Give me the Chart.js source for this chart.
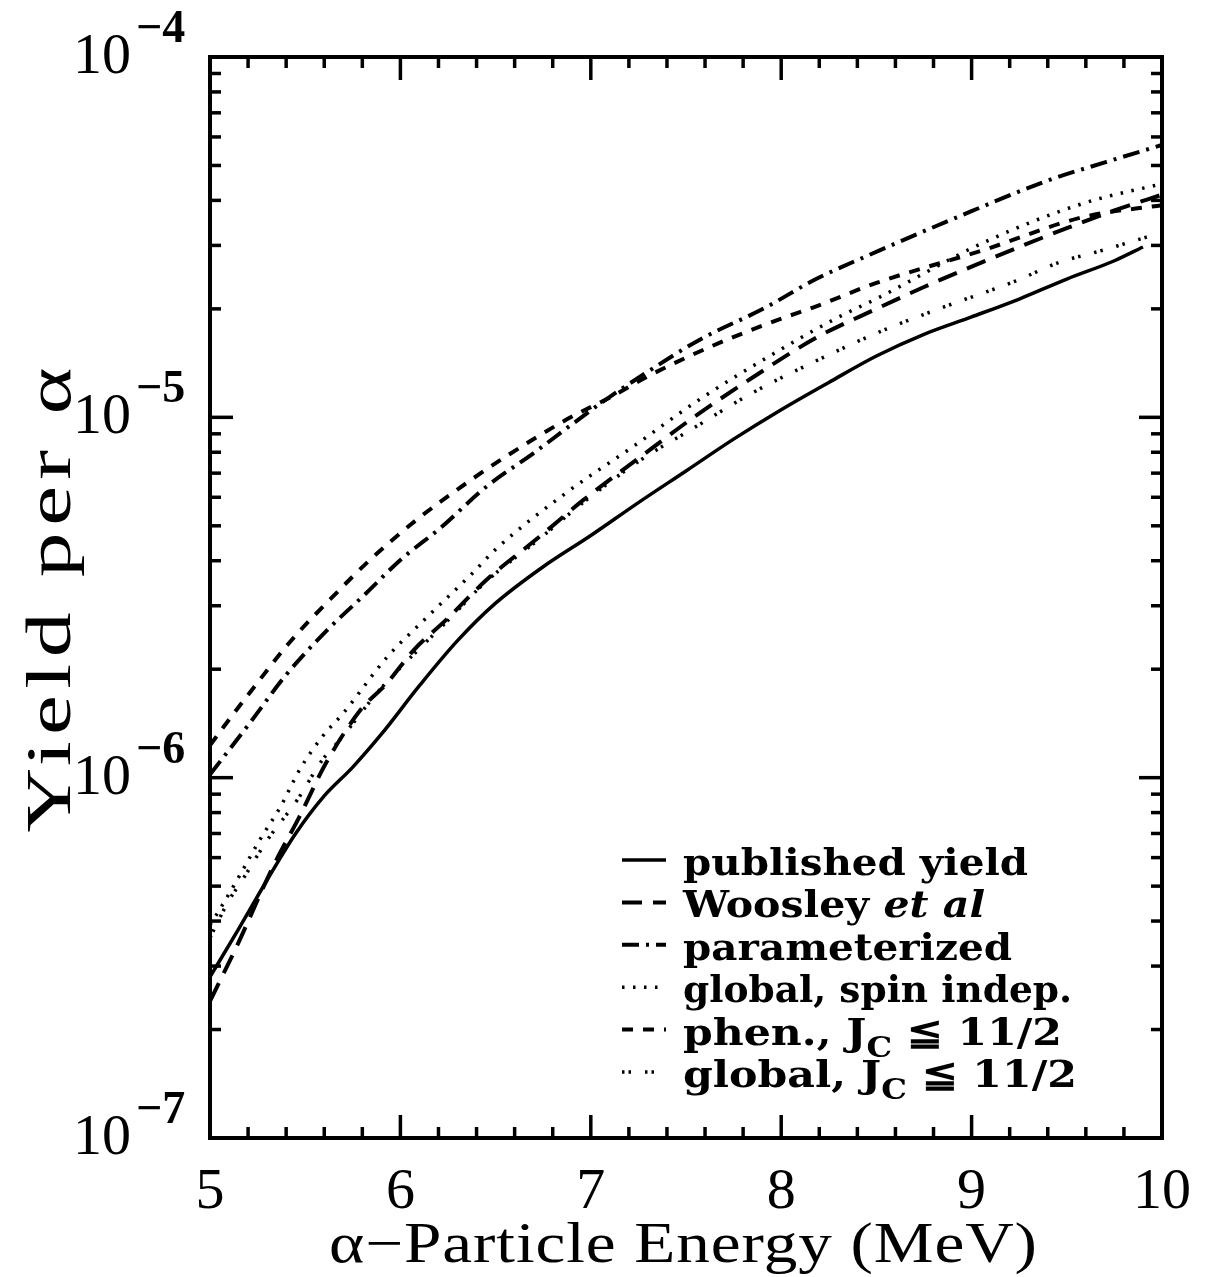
<!DOCTYPE html>
<html><head><meta charset="utf-8">
<script src="https://cdn.jsdelivr.net/npm/chart.js@4.4.1/dist/chart.umd.min.js"></script>
<style>html,body{margin:0;padding:0;background:#fff;}#wrap{width:1205px;height:1277px;}</style>
</head><body><div id="wrap"><canvas id="c" width="1205" height="1277"></canvas></div>
<script>
// ---- tick labels ----
const xTicks = [5, 6, 7, 8, 9, 10];
const xTickLabels = ['5', '6', '7', '8', '9', '10'];
const yDecades = [1e-4, 1e-5, 1e-6, 1e-7];
const yTickExponents = ['\u22124', '\u22125', '\u22126', '\u22127'];
const xTitle = '\u03b1\u2212Particle Energy (MeV)';
const yTitle = 'Yield per \u03b1';

// ---- series ----
const seriesLabels = ['published yield', 'Woosley et al', 'parameterized',
  'global, spin indep.', 'phen., J_C \u2266 11/2', 'global, J_C \u2266 11/2'];

const ePublished = [5.0, 5.15, 5.3, 5.45, 5.6, 5.75, 5.9, 6.1, 6.3, 6.5, 6.75, 7.0, 7.25, 7.5, 7.75, 8.0, 8.25, 8.5, 8.75, 9.0, 9.25, 9.5, 9.75, 9.9];
const yPublished = [2.8e-7, 3.8e-7, 5.2e-7, 7.0e-7, 8.9e-7, 1.07e-6, 1.32e-6, 1.8e-6, 2.4e-6, 3.05e-6, 3.85e-6, 4.7e-6, 5.8e-6, 7.1e-6, 8.7e-6, 1.05e-5, 1.25e-5, 1.48e-5, 1.7e-5, 1.9e-5, 2.13e-5, 2.42e-5, 2.72e-5, 2.97e-5];

const eWoosley = [5.0, 5.14, 5.33, 5.47, 5.61, 5.79, 5.93, 6.07, 6.24, 6.45, 6.73, 6.96, 7.26, 7.54, 7.85, 8.19, 8.5, 8.75, 9.0, 9.25, 9.5, 9.75, 10.0];
const yWoosley = [2.4e-7, 3.4e-7, 5.65e-7, 7.8e-7, 1.1e-6, 1.54e-6, 1.83e-6, 2.26e-6, 2.74e-6, 3.53e-6, 4.66e-6, 5.89e-6, 7.76e-6, 1.0e-5, 1.29e-5, 1.67e-5, 2.0e-5, 2.3e-5, 2.62e-5, 2.97e-5, 3.35e-5, 3.75e-5, 4.15e-5];

const eParam = [5.0, 5.21, 5.4, 5.61, 5.82, 6.0, 6.21, 6.45, 6.7, 6.91, 7.1, 7.31, 7.57, 7.92, 8.17, 8.52, 8.89, 9.41, 9.7, 10.0];
const yParam = [1.02e-6, 1.42e-6, 1.93e-6, 2.55e-6, 3.25e-6, 4.02e-6, 4.93e-6, 6.41e-6, 7.96e-6, 9.64e-6, 1.14e-5, 1.35e-5, 1.64e-5, 2.02e-5, 2.4e-5, 2.91e-5, 3.53e-5, 4.56e-5, 5.1e-5, 5.7e-5];

const eSpin = [5.0, 5.05, 5.16, 5.26, 5.37, 5.47, 5.59, 5.7, 5.93, 6.14, 6.38, 6.5, 6.87, 7.22, 7.57, 7.93, 8.27, 8.52, 9.06, 9.59, 10.0];
const ySpin = [3.9e-7, 4.3e-7, 5.4e-7, 6.7e-7, 8.3e-7, 1.05e-6, 1.3e-6, 1.51e-6, 2.16e-6, 2.79e-6, 3.7e-6, 4.3e-6, 6.17e-6, 8.28e-6, 1.12e-5, 1.47e-5, 1.86e-5, 2.16e-5, 3.05e-5, 3.93e-5, 4.45e-5];

const ePhen = [5.0, 5.07, 5.23, 5.42, 5.67, 5.84, 6.07, 6.37, 6.54, 6.87, 7.12, 7.3, 7.64, 7.99, 8.17, 8.5, 9.06, 9.59, 10.0];
const yPhen = [1.23e-6, 1.38e-6, 1.78e-6, 2.38e-6, 3.28e-6, 4.02e-6, 5.12e-6, 6.7e-6, 7.7e-6, 9.84e-6, 1.15e-5, 1.3e-5, 1.58e-5, 1.87e-5, 2.02e-5, 2.36e-5, 2.91e-5, 3.6e-5, 3.88e-5];

const eGlobalJ = [5.0, 5.1, 5.17, 5.3, 5.46, 5.59, 5.68, 5.89, 6.07, 6.24, 6.45, 6.73, 6.96, 7.26, 7.52, 7.85, 8.19, 8.52, 8.85, 9.24, 9.45, 9.69, 9.95];
const yGlobalJ = [3.6e-7, 4.57e-7, 5.2e-7, 6.7e-7, 8.7e-7, 1.12e-6, 1.27e-6, 1.75e-6, 2.2e-6, 2.7e-6, 3.5e-6, 4.6e-6, 5.8e-6, 7.6e-6, 9.2e-6, 1.17e-5, 1.44e-5, 1.73e-5, 2.02e-5, 2.4e-5, 2.68e-5, 2.91e-5, 3.2e-5];

const seriesE = [ePublished, eWoosley, eParam, eSpin, ePhen, eGlobalJ];
const seriesY = [yPublished, yWoosley, yParam, ySpin, yPhen, yGlobalJ];
const seriesDash = [[], [20, 11], [17, 7, 3, 7], [2.5, 8.5], [11, 10], [2.5, 4, 2.5, 14]];
const seriesWidth = [3.5, 4, 4, 3.5, 4, 3.5];
const legendTextWidths = [345, 302, 329, 389, 379, 394];

const datasets = seriesE.map((es, i) => ({
  label: seriesLabels[i],
  data: es.map((e, k) => ({x: e, y: seriesY[i][k]})),
  borderColor: '#000',
  borderWidth: seriesWidth[i],
  borderDash: seriesDash[i],
  borderCapStyle: 'butt',
  pointRadius: 0,
  fill: false,
  cubicInterpolationMode: 'monotone'
}));

// draws text with a horizontal stretch plus a little letter spacing so it spans `width`
function spreadText(ctx, text, cx, y, width, font, stretch) {
  ctx.save();
  ctx.font = font;
  const hasLS = ('letterSpacing' in ctx);
  if (hasLS) ctx.letterSpacing = '0px';
  const w0 = ctx.measureText(text).width;
  const ls = Math.max(0, (width / stretch - w0) / Math.max(1, text.length - 1));
  if (hasLS) ctx.letterSpacing = ls + 'px';
  const w1 = ctx.measureText(text).width - (hasLS ? ls : 0);
  const s = width / w1;
  ctx.translate(cx - width / 2, y);
  ctx.scale(s, 1);
  ctx.textAlign = 'left';
  ctx.textBaseline = 'alphabetic';
  ctx.fillText(text, 0, 0);
  ctx.restore();
}

function labelSegments(label) {
  const segs = [];
  const base = 'bold 37px "DejaVu Serif"';
  if (label.includes('et al')) {
    const p = label.split('et al');
    segs.push({t: p[0], f: base, dy: 0});
    segs.push({t: 'et al', f: 'italic bold 37px "DejaVu Serif"', dy: 0});
  } else if (label.includes('J_C')) {
    const p = label.split('J_C');
    segs.push({t: p[0] + 'J', f: base, dy: 0});
    segs.push({t: 'C', f: 'bold 28px "DejaVu Serif"', dy: 12});
    segs.push({t: p[1], f: base, dy: 0});
  } else {
    segs.push({t: label, f: base, dy: 0});
  }
  return segs;
}

const framePlugin = {
  id: 'frame',
  afterDatasetsDraw(chart) {
    const ctx = chart.ctx, ca = chart.chartArea;
    const xs = chart.scales.x, ys = chart.scales.y;
    ctx.save();
    ctx.strokeStyle = '#000';
    ctx.fillStyle = '#000';
    ctx.setLineDash([]);
    ctx.lineCap = 'butt';
    const line = (a, b, c, d) => { ctx.beginPath(); ctx.moveTo(a, b); ctx.lineTo(c, d); ctx.stroke(); };
    // x ticks (inward, bottom and top)
    ctx.lineWidth = 3.5;
    for (let i = 0; i <= 25; i++) {
      const v = 5 + i * 0.2;
      const px = xs.getPixelForValue(v);
      const L = (i % 5 === 0) ? 23 : 11;
      line(px, ca.bottom, px, ca.bottom - L);
      line(px, ca.top, px, ca.top + L);
    }
    // y ticks (log, inward, left and right)
    for (const d of [-7, -6, -5]) {
      for (let m = 1; m <= 9; m++) {
        const v = m * Math.pow(10, d);
        const py = ys.getPixelForValue(v);
        const L = (m === 1) ? 23 : 11;
        line(ca.left, py, ca.left + L, py);
        line(ca.right, py, ca.right - L, py);
      }
    }
    // frame
    ctx.lineWidth = 4;
    ctx.strokeRect(ca.left, ca.top, ca.right - ca.left, ca.bottom - ca.top);

    // x tick labels
    ctx.font = '58px "Liberation Serif"';
    ctx.textAlign = 'center';
    ctx.textBaseline = 'alphabetic';
    xTicks.forEach((v, i) => {
      ctx.fillText(xTickLabels[i], xs.getPixelForValue(v), ca.bottom + 70);
    });
    // y tick labels 10^-n
    yDecades.forEach((v, i) => {
      const py = ys.getPixelForValue(v);
      ctx.font = '58px "Liberation Serif"';
      ctx.textAlign = 'right';
      ctx.fillText('10', ca.left - 79, py + 16);
      ctx.font = 'bold 46px "Liberation Serif"';
      ctx.textAlign = 'left';
      ctx.fillText(yTickExponents[i], ca.left - 74, py - 15);
    });
    // axis titles
    spreadText(ctx, xTitle, (ca.left + ca.right) / 2 - 3, ca.bottom + 124, 708, '56px "Liberation Serif"', 1.2);
    ctx.save();
    ctx.translate(70, 600);
    ctx.rotate(-Math.PI / 2);
    spreadText(ctx, yTitle, 0, 0, 465, '64px "Liberation Serif"', 1.4);
    ctx.restore();

    // legend
    chart.data.datasets.forEach((ds, i) => {
      const by = 875 + i * 42.4;
      ctx.save();
      ctx.lineWidth = ds.borderWidth;
      ctx.setLineDash(ds.borderDash);
      line(622, by - 15, 666, by - 15);
      ctx.restore();
      const segs = labelSegments(ds.label);
      let total = 0;
      segs.forEach(s => { ctx.font = s.f; total += ctx.measureText(s.t).width; });
      ctx.save();
      ctx.translate(683, by);
      ctx.scale(legendTextWidths[i] / total, 1);
      ctx.textAlign = 'left';
      let cx = 0;
      segs.forEach(s => {
        ctx.font = s.f;
        ctx.fillText(s.t, cx, s.dy);
        cx += ctx.measureText(s.t).width;
      });
      ctx.restore();
    });
    ctx.restore();
  }
};

new Chart(document.getElementById('c'), {
  type: 'line',
  data: {datasets},
  options: {
    responsive: false,
    animation: false,
    devicePixelRatio: 1,
    layout: {padding: {left: 210, top: 57, right: 43, bottom: 139}},
    plugins: {legend: {display: false}, tooltip: {enabled: false}},
    scales: {
      x: {type: 'linear', min: 5, max: 10, display: false},
      y: {type: 'logarithmic', min: 1e-7, max: 1e-4, display: false}
    }
  },
  plugins: [framePlugin]
});
</script>
</body></html>
